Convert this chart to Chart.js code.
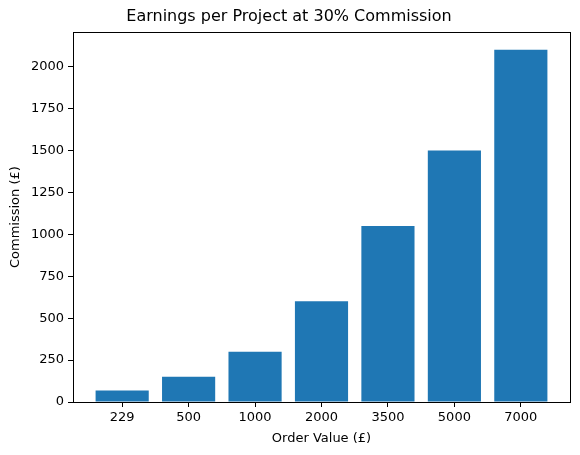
<!DOCTYPE html>
<html>
<head>
<meta charset="utf-8">
<script src="https://cdn.jsdelivr.net/npm/chart.js@4"></script>
<style>
  html, body { margin: 0; padding: 0; background: #fff; }
  #wrap { width: 580px; height: 455px; }
</style>
</head>
<body>
<div id="wrap"><canvas id="chart" width="580" height="455"></canvas></div>
<script>
// order values (category labels) and commission at 30%
const orderValues = ['229', '500', '1000', '2000', '3500', '5000', '7000'];
const commission = [68.7, 150, 300, 600, 1050, 1500, 2100];
const yTicks = [0, 250, 500, 750, 1000, 1250, 1500, 1750, 2000];

const FONT = "'DejaVu Sans', sans-serif";

// draw the full box around the plot like matplotlib spines
const frame = {
    id: 'frame',
    afterDraw(chart) {
        const a = chart.chartArea;
        const ctx = chart.ctx;
        ctx.save();
        ctx.strokeStyle = '#000';
        ctx.lineWidth = 1;
        ctx.strokeRect(Math.round(a.left) + 0.5, Math.round(a.top) + 0.5,
            Math.round(a.right - a.left), Math.round(a.bottom - a.top));
        ctx.restore();
    }
};

new Chart(document.getElementById('chart'), {
    type: 'bar',
    data: {
        datasets: [{
            data: commission.map((v, i) => ({ x: i, y: v })),
            backgroundColor: '#1f77b4',
            borderWidth: 0,
            inflateAmount: 0,
            barPercentage: 0.8,
            categoryPercentage: 1.0
        }]
    },
    options: {
        responsive: false,
        animation: false,
        layout: { padding: { left: 8, right: 10, top: 0, bottom: 0 } },
        plugins: {
            legend: { display: false },
            tooltip: { enabled: false },
            title: {
                display: true,
                text: 'Earnings per Project at 30% Commission',
                color: '#000',
                font: { family: FONT, size: 16, weight: 'normal' },
                padding: { top: 7, bottom: 6 }
            }
        },
        scales: {
            x: {
                type: 'linear',
                min: -0.74,
                max: 6.74,
                offset: false,
                afterBuildTicks(scale) {
                    scale.ticks = orderValues.map((_, i) => ({ value: i }));
                },
                afterFit(scale) { scale.height = 53; },
                ticks: {
                    color: '#000',
                    font: { family: FONT, size: 13 },
                    padding: 3,
                    callback: (v) => orderValues[v]
                },
                grid: { drawOnChartArea: false, offset: false, tickLength: 5, color: '#000' },
                border: { display: true, color: '#000' },
                title: {
                    display: true,
                    text: 'Order Value (£)',
                    color: '#000',
                    font: { family: FONT, size: 13 },
                    padding: { top: 2, bottom: 9 }
                }
            },
            y: {
                min: 0,
                max: 2205,
                afterBuildTicks(scale) {
                    scale.ticks = yTicks.map(v => ({ value: v }));
                },
                afterFit(scale) { scale.width = 65; },
                ticks: {
                    color: '#000',
                    font: { family: FONT, size: 13 },
                    padding: 4,
                    callback: (v) => String(v)
                },
                grid: { drawOnChartArea: false, tickLength: 5, color: '#000' },
                border: { display: true, color: '#000' },
                title: {
                    display: true,
                    text: 'Commission (£)',
                    color: '#000',
                    font: { family: FONT, size: 13 },
                    padding: { top: 0, bottom: 4 }
                }
            }
        }
    },
    plugins: [frame]
});
</script>
</body>
</html>
